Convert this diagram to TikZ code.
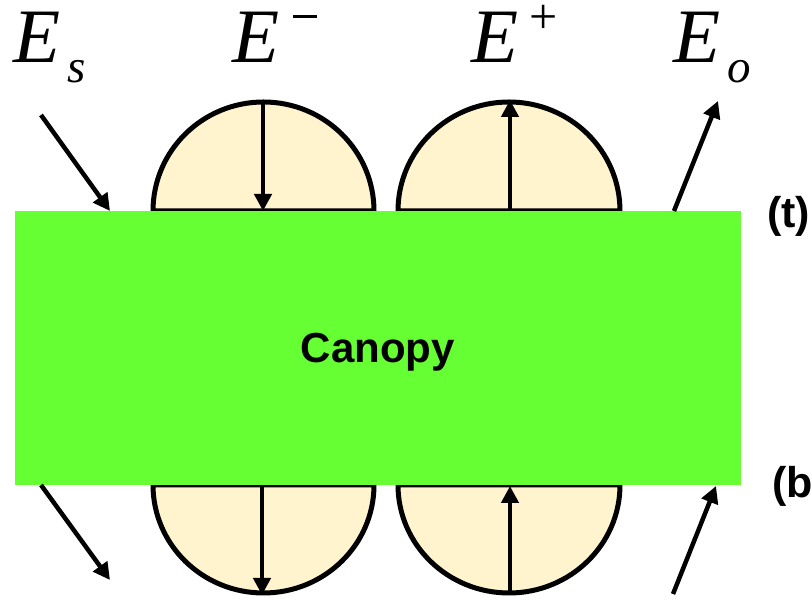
\documentclass[tikz,border=0pt]{standalone}
\usepackage{fontspec}
\setmainfont{Liberation Serif}
\newfontfamily\arialfont{Liberation Sans}
\usetikzlibrary{arrows.meta}
\definecolor{canopygreen}{HTML}{66FF33}
\definecolor{lobefill}{HTML}{FFF4CE}
\tikzset{
  lobe/.style={draw=black, line width=5pt, fill=lobefill},
  flux/.style={draw=black, line width=4.5pt, -{Triangle[length=17pt,width=17pt]}},
  biglabel/.style={anchor=base west, inner sep=0pt, font=\fontsize{77}{77}\selectfont\itshape},
  sidelabel/.style={anchor=base west, inner sep=0pt, font=\fontsize{43}{43}\selectfont\arialfont\bfseries},
}
\newcommand{\subtxt}[1]{\kern7pt\raisebox{-20pt}{\fontsize{47}{47}\selectfont\itshape #1}}
\begin{document}
\begin{tikzpicture}[x=1pt,y=1pt]
\useasboundingbox (0,0) rectangle (812,601);
\clip (0,0) rectangle (812,601);
\fill[white] (0,0) rectangle (812,601);
% lobes
\draw[lobe] (153,390) arc[start angle=180,end angle=0,x radius=110.5,y radius=109] -- cycle;
\draw[lobe] (398,390) arc[start angle=180,end angle=0,x radius=111,y radius=109] -- cycle;
\draw[lobe] (153,116) arc[start angle=180,end angle=360,x radius=110.5,y radius=108] -- cycle;
\draw[lobe] (398,116) arc[start angle=180,end angle=360,x radius=111,y radius=108] -- cycle;
% canopy
\node[fill=canopygreen, minimum width=726pt, minimum height=274pt, inner sep=0pt, anchor=south west] (canopy) at (15,116) {};
\node[anchor=base, inner sep=0pt, font=\fontsize{42}{42}\selectfont\arialfont\bfseries] (canopytxt) at (378,238) {Canopy};
% labels
\node[biglabel] (Es) at (13,538) {E\subtxt{s}};
\node[biglabel] (Em) at (232,538) {E\kern14pt\smash{\raisebox{45pt}{\rule{24pt}{2.6pt}}}};
\node[biglabel] (Ep) at (471,538) {E\kern11pt\smash{\raisebox{29pt}{\fontsize{50}{50}\selectfont\upshape +}}};
\node[biglabel] (Eo) at (673,538) {E\subtxt{o}};
\node[sidelabel] (tl) at (767,373) {(t)};
\node[sidelabel] (bl) at (772,103) {(b)};
% coordinates
\coordinate (a1) at (41,486); \coordinate (a2) at (110,390);
\coordinate (b1) at (263,501); \coordinate (b2) at (263,390);
\coordinate (c1) at (510,390); \coordinate (c2) at (510,501);
\coordinate (d1) at (674,390); \coordinate (d2) at (718,500);
\coordinate (e1) at (41,116); \coordinate (e2) at (110,21);
\coordinate (f1) at (262,116); \coordinate (f2) at (262,6);
\coordinate (g1) at (510,6); \coordinate (g2) at (510,115);
\coordinate (h1) at (673,7); \coordinate (h2) at (716,115);
\draw[flux] (a1) -- (a2);
\draw[flux] (b1) -- (b2);
\draw[flux] (c1) -- (c2);
\draw[flux] (d1) -- (d2);
\draw[flux] (e1) -- (e2);
\draw[flux] (f1) -- (f2);
\draw[flux] (g1) -- (g2);
\draw[flux] (h1) -- (h2);
\end{tikzpicture}
\end{document}
